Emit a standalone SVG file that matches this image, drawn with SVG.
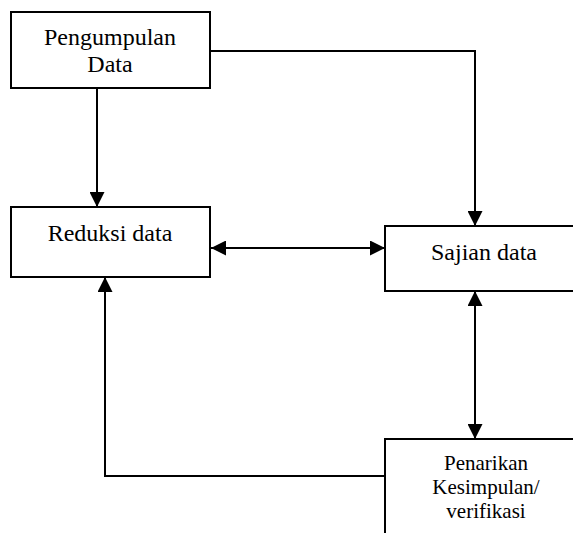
<svg xmlns="http://www.w3.org/2000/svg" width="573" height="533" viewBox="0 0 573 533">
<style>
.box{fill:#fff;stroke:#000;stroke-width:2}
.t{font-family:'Liberation Serif','Tinos','Times New Roman','DejaVu Serif',serif;font-size:24px;fill:#000;text-anchor:middle}
.s{font-size:21px}
.c{fill:none;stroke:#000;stroke-width:2}
</style>
<defs>
<marker id="ah" markerUnits="userSpaceOnUse" viewBox="0 0 15 15" refX="15" refY="7.5" markerWidth="15" markerHeight="15" orient="auto-start-reverse">
<path d="M0,0 L15,7.5 L0,15 Z" fill="#000"/>
</marker>
</defs>
<rect width="573" height="533" fill="#fff"/>
<g id="connectors">
<path class="c" d="M97,88 V207" marker-end="url(#ah)"/>
<path class="c" d="M210,51 H475 V226" marker-end="url(#ah)"/>
<path class="c" d="M211,248 H385" marker-start="url(#ah)" marker-end="url(#ah)"/>
<path class="c" d="M475,291 V439" marker-start="url(#ah)" marker-end="url(#ah)"/>
<path class="c" d="M385,476 H105 V277" marker-end="url(#ah)"/>
</g>
<g id="pengumpulan">
<rect class="box" x="11" y="12" width="199" height="76"/>
<text class="t" x="110" y="45">Pengumpulan</text>
<text class="t" x="110" y="72">Data</text>
</g>
<g id="reduksi">
<rect class="box" x="11" y="207" width="199" height="70"/>
<text class="t" x="110" y="241">Reduksi data</text>
</g>
<g id="sajian">
<rect class="box" x="385" y="226" width="205" height="65"/>
<text class="t" x="484" y="260">Sajian data</text>
</g>
<g id="penarikan">
<rect class="box" x="385" y="439" width="205" height="110"/>
<text class="t s" x="486" y="470">Penarikan</text>
<text class="t s" x="486" y="494">Kesimpulan/</text>
<text class="t s" x="486" y="518">verifikasi</text>
</g>
</svg>
